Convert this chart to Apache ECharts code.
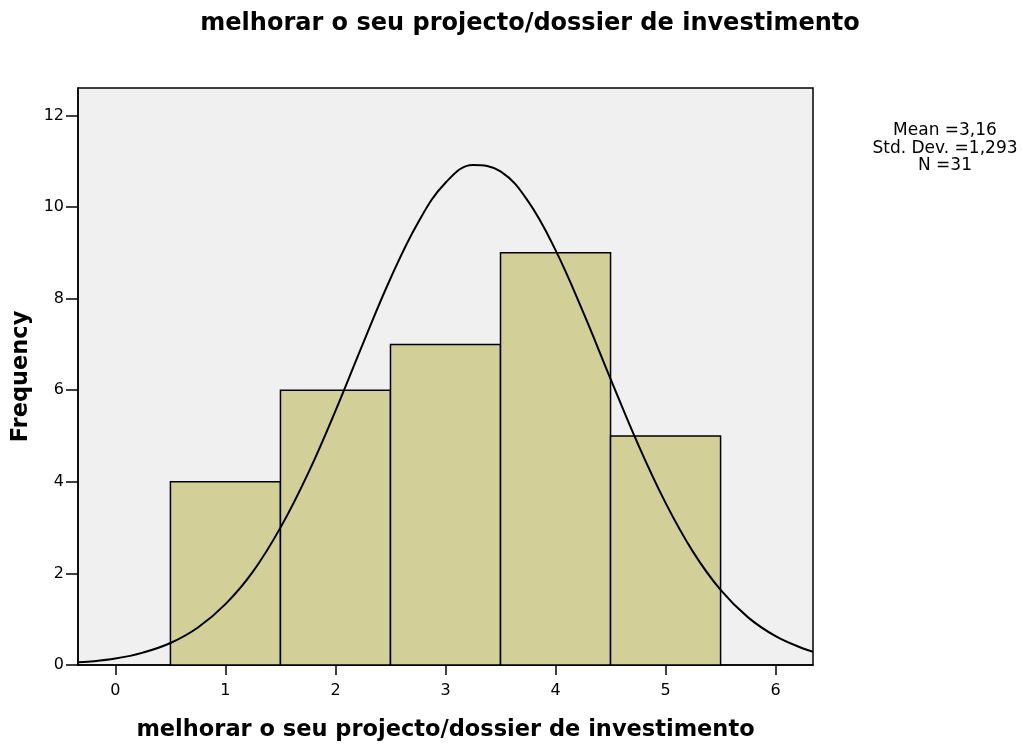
<!DOCTYPE html>
<html>
<head>
<meta charset="utf-8">
<script src="https://cdn.jsdelivr.net/npm/echarts@6/dist/echarts.min.js"></script>
<style>
html,body{margin:0;padding:0;background:#fff;}
#chart{width:1023px;height:746px;}
</style>
</head>
<body>
<div id="chart"></div>
<script>
// Histogram bins (value categories 1..5, bin edges at ±0.5)
const binStart = [0.5, 1.5, 2.5, 3.5, 4.5];
const binEnd   = [1.5, 2.5, 3.5, 4.5, 5.5];
const counts   = [4, 6, 7, 9, 5];

// Normal curve points
const curveX = [-0.34, -0.25, 0, 0.25, 0.5, 0.75, 1, 1.25, 1.5, 1.75, 2, 2.25, 2.5, 2.75, 3, 3.25, 3.5, 3.75, 4, 4.25, 4.5, 4.75, 5, 5.25, 5.5, 5.75, 6, 6.25, 6.34];
const curveY = [0.06, 0.07, 0.14, 0.27, 0.48, 0.82, 1.33, 2.04, 3.0, 4.18, 5.55, 7.02, 8.44, 9.66, 10.53, 10.92, 10.78, 10.13, 9.06, 7.71, 6.25, 4.82, 3.54, 2.47, 1.64, 1.04, 0.63, 0.36, 0.29];

// Tick labels
const xTicks = [0, 1, 2, 3, 4, 5, 6];
const yTicks = [0, 2, 4, 6, 8, 10, 12];

const titleText = 'melhorar o seu projecto/dossier de investimento';
const xName = 'melhorar o seu projecto/dossier de investimento';
const yName = 'Frequency';
const statsLines = ['Mean =3,16', 'Std. Dev. =1,293', 'N =31'];

const FONT = '"DejaVu Sans", Verdana, sans-serif';

const chart = echarts.init(document.getElementById('chart'), null, {renderer: 'canvas'});

const barData = binStart.map((s, i) => [s, binEnd[i], counts[i]]);
const lineData = curveX.map((x, i) => [x, curveY[i]]);

chart.setOption({
  backgroundColor: '#ffffff',
  animation: false,
  title: [{
    text: titleText,
    left: 530, top: 12, textAlign: 'center', padding: 0,
    textStyle: {fontFamily: FONT, fontSize: 24, fontWeight: 'bold', color: '#000'}
  }, {
    text: statsLines.join('\n'),
    left: 945, top: 122, textAlign: 'center', padding: 0,
    textStyle: {fontFamily: FONT, fontSize: 17, fontWeight: 'normal', color: '#000', lineHeight: 17.5, align: 'center'}
  }],
  grid: {
    left: 78, right: 210, top: 88, bottom: 81,
    outerBoundsMode: 'none',
    show: true, backgroundColor: '#f0f0f0', borderColor: '#000', borderWidth: 1.5
  },
  xAxis: {
    type: 'value', min: -0.34, max: 6.34,
    name: xName, nameLocation: 'middle', nameGap: 54,
    nameTextStyle: {fontFamily: FONT, fontSize: 22.5, fontWeight: 'bold', color: '#000'},
    axisLine: {show: true, onZero: false, lineStyle: {color: '#000', width: 1.5}},
    axisTick: {show: true, length: 10, lineStyle: {color: '#000', width: 1.5}, customValues: xTicks},
    axisLabel: {fontFamily: FONT, fontSize: 16, color: '#000', margin: 18, customValues: xTicks},
    splitLine: {show: false}
  },
  yAxis: {
    type: 'value', min: 0, max: 12.6,
    name: yName, nameLocation: 'middle', nameGap: 42, nameRotate: 90,
    nameTextStyle: {fontFamily: FONT, fontSize: 22.5, fontWeight: 'bold', color: '#000'},
    axisLine: {show: true, onZero: false, lineStyle: {color: '#000', width: 1.5}},
    axisTick: {show: true, length: 12, lineStyle: {color: '#000', width: 1.5}, customValues: yTicks},
    axisLabel: {fontFamily: FONT, fontSize: 16, color: '#000', margin: 14, customValues: yTicks},
    splitLine: {show: false}
  },
  series: [{
    type: 'custom',
    data: barData,
    encode: {x: [0, 1], y: 2},
    renderItem: function (params, api) {
      const p0 = api.coord([api.value(0), 0]);
      const p1 = api.coord([api.value(1), api.value(2)]);
      return {
        type: 'rect',
        shape: {x: p0[0], y: p1[1], width: p1[0] - p0[0], height: p0[1] - p1[1]},
        style: {fill: '#d3cf98', stroke: '#000', lineWidth: 1.5}
      };
    },
    z: 2
  }, {
    type: 'line',
    data: lineData,
    smooth: 0.4,
    showSymbol: false,
    lineStyle: {color: '#000', width: 2},
    z: 3
  }]
});
</script>
</body>
</html>
